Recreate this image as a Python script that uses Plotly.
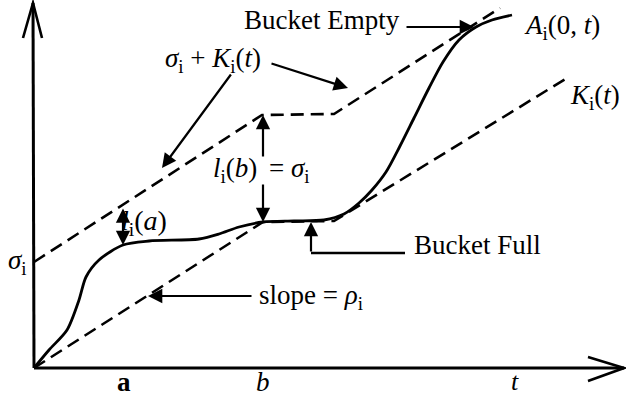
import plotly.graph_objects as go

# ---- data (t in drawing units from origin, values upward) ----
sigma = 106
rho = 0.64
a_t = 90
b_t = 229
t_label = 481

# lower envelope K_i(t): vertices
K_t = [0, 229, 300, 533]
K_v = [0, 146, 147, 290]

# upper envelope sigma_i + K_i(t)
S_t = [0, 228, 300, 466]
S_v = [106, 253, 254, 360]

# arrival curve A_i(0,t)
A_t = [0, 15, 33, 45, 52, 65, 89, 115, 165, 185, 205, 229, 260, 290, 310, 325, 338, 352, 366, 380, 395, 409, 425, 442, 458, 478]
A_v = [0, 18, 38, 68, 91, 108, 123, 127, 129, 134, 141, 146, 147, 148, 154, 165, 178, 196, 222, 250, 280, 306, 328, 341, 348, 353]

FONT = "Liberation Serif"
FS = 27

fig = go.Figure()
fig.add_trace(go.Scatter(x=K_t, y=K_v, mode="lines",
                         line=dict(color="black", width=2.6, dash="13px,7px")))
fig.add_trace(go.Scatter(x=S_t, y=S_v, mode="lines",
                         line=dict(color="black", width=2.6, dash="13px,7px")))
fig.add_trace(go.Scatter(x=A_t, y=A_v, mode="lines", line_shape="spline",
                         line=dict(color="black", width=2.8, smoothing=0.8)))

shapes = [
    # y axis with open arrowhead
    dict(type="path", path="M 0,0 L -1,365", line=dict(color="black", width=3)),
    dict(type="path", path="M -11,330 L -1,365 L 8,330", line=dict(color="black", width=2.6)),
    # x axis with open arrowhead
    dict(type="path", path="M 0,0 L 590,0", line=dict(color="black", width=3)),
    dict(type="path", path="M 554,11 L 590,0 L 554,-13", line=dict(color="black", width=2.6)),
    # Bucket Full leader
    dict(type="line", x0=277, y0=115, x1=371, y1=115, line=dict(color="black", width=2.4)),
]

def arrow(x, y, ax, ay, both=False):
    return dict(x=x, y=y, ax=ax, ay=ay, xref="x", yref="y", axref="x", ayref="y",
                text="", showarrow=True, arrowhead=2, arrowsize=1.3, arrowwidth=2.2,
                startarrowhead=2, startarrowsize=1.3,
                font=dict(family=FONT, size=12, color="black"),
                arrowside="end+start" if both else "end", arrowcolor="black")

def label(x, y, text, xanchor="center", size=FS):
    return dict(x=x, y=y, xref="x", yref="y", text=text, showarrow=False,
                xanchor=xanchor, yanchor="middle",
                font=dict(family=FONT, size=size, color="black"))

ann = [
    label(288, 348, "Bucket Empty"),
    arrow(440, 341, 371, 341),
    label(179, 308, "<i>σ</i><sub>i</sub> + <i>K</i><sub>i</sub>(<i>t</i>)"),
    arrow(128, 200, 198, 295),
    arrow(314, 280, 236, 305),
    label(528, 341, "<i>A</i><sub>i</sub>(0, <i>t</i>)"),
    label(561, 271, "<i>K</i><sub>i</sub>(<i>t</i>)"),
    label(225, 198, "<i>l</i><sub>i</sub>(<i>b</i>)", xanchor="right"),
    label(233, 198, "= <i>σ</i><sub>i</sub>", xanchor="left"),
    arrow(b_t, 253, b_t, 210),
    arrow(b_t, 146, b_t, 185),
    label(85, 146, "<i>l</i><sub>i</sub>(<i>a</i>)", xanchor="left", size=28),
    arrow(a_t - 1, 123, a_t - 1, 161, both=True),
    label(378, 123, "Bucket Full", xanchor="left"),
    arrow(277, 146, 277, 115),
    label(223, 71, "slope = <i>ρ</i><sub>i</sub>", xanchor="left"),
    arrow(114, 72, 219, 72),
    label(-17, sigma, "<i>σ</i><sub>i</sub>"),
    label(a_t, -14, "<b>a</b>", size=27),
    label(b_t, -14, "<i>b</i>", size=27),
    label(t_label, -13, "<i>t</i>", size=26),
]

fig.update_layout(
    width=626, height=396, margin=dict(l=0, r=0, t=0, b=0),
    font=dict(family=FONT, size=FS, color="black"),
    plot_bgcolor="white", paper_bgcolor="white", showlegend=False,
    xaxis=dict(range=[-34, 592], visible=False),
    yaxis=dict(range=[-28, 368], visible=False),
    shapes=shapes, annotations=ann,
)
fig.write_html("out.html", config={"displayModeBar": False},
               post_script="document.body.style.margin='0';document.body.style.padding='0';")
